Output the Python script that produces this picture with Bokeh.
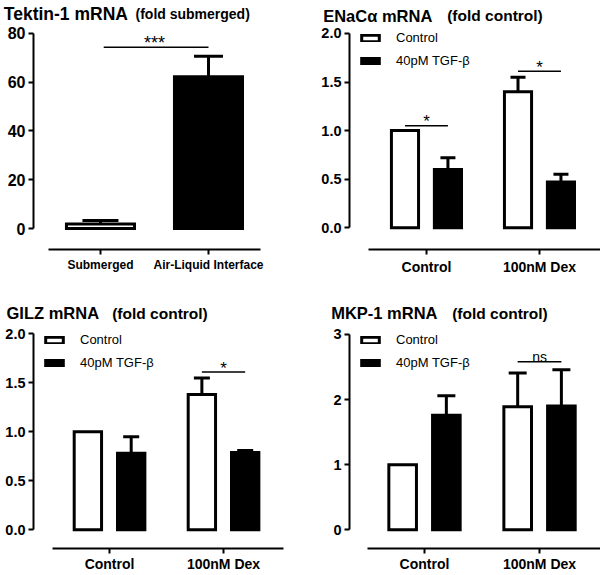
from bokeh.plotting import figure
from bokeh.models import (FixedTicker, Whisker, TeeHead, ColumnDataSource,
                          Range1d, Legend, LegendItem, PrintfTickFormatter)
from bokeh.layouts import column, row
from bokeh.embed import file_html
from bokeh.resources import INLINE
from bokeh.core.properties import value

FONT = "Liberation Sans"

# ---------------- data ----------------
tek_groups = ["Submerged", "Air-Liquid Interface"]
tek_mean = [1.8, 62.3]
tek_sem = [1.5, 8.4]
tek_ticks = [0, 20, 40, 60, 80]
tek_sig = ("***", 74.4)

treat_groups = ["Control", "100nM Dex"]
series_names = ["Control", "40pM TGF-\u03b2"]

enac_ctrl_mean = [1.00, 1.40]
enac_ctrl_sem = [0.00, 0.15]
enac_tgf_mean = [0.60, 0.47]
enac_tgf_sem = [0.12, 0.08]

gilz_ctrl_mean = [1.00, 1.38]
gilz_ctrl_sem = [0.00, 0.17]
gilz_tgf_mean = [0.78, 0.79]
gilz_tgf_sem = [0.17, 0.02]

mkp_ctrl_mean = [1.00, 1.89]
mkp_ctrl_sem = [0.00, 0.52]
mkp_tgf_mean = [1.76, 1.90]
mkp_tgf_sem = [0.30, 0.56]

fold_ticks = [0.0, 0.5, 1.0, 1.5, 2.0]
mkp_ticks = [0, 1, 2, 3]

# (label, group index, bracket height)
enac_sig = [("*", 0, 1.05), ("*", 1, 1.61)]
gilz_sig = [("*", 1, 1.61)]
mkp_sig = [("ns", 1, 2.58)]

titles = [("Tektin-1 mRNA", "(fold submerged)"),
          ("ENaC\u03b1 mRNA", "(fold control)"),
          ("GILZ mRNA", "(fold control)"),
          ("MKP-1 mRNA", "(fold control)")]


def title_strip(w, h, tx, sx, base, title, sub, tsize, ssize):
    t = figure(width=w, height=h, x_range=Range1d(0, w), y_range=Range1d(h, 0),
               output_backend="svg", toolbar_location=None, min_border=0,
               x_axis_location=None, y_axis_location=None)
    t.outline_line_color = None
    t.grid.visible = False
    t.text(x=[tx], y=[base], text=[title], text_font=value(FONT),
           text_font_style="bold", text_font_size=tsize,
           text_baseline="alphabetic", text_align="left", text_color="black")
    t.text(x=[sx], y=[base], text=[sub], text_font=value(FONT),
           text_font_style="bold", text_font_size=ssize,
           text_baseline="alphabetic", text_align="left", text_color="black")
    return t


def make_fig(w, h, fl, fr, ft, fb, xr, yr, ybounds, yticks, yfmt, ylab_size,
             xlabels, xbounds, xlab_size, xstand):
    p = figure(width=w, height=h, x_range=Range1d(*xr), y_range=Range1d(*yr),
               output_backend="svg", toolbar_location=None,
               min_border_left=fl, min_border_right=fr,
               min_border_top=ft, min_border_bottom=fb)
    p.outline_line_color = None
    p.grid.visible = False
    ya = p.yaxis[0]
    ya.ticker = FixedTicker(ticks=yticks)
    ya.formatter = PrintfTickFormatter(format=yfmt)
    ya.bounds = ybounds
    ya.axis_line_width = 2
    ya.major_tick_line_width = 2
    ya.major_tick_in = 0
    ya.major_tick_out = 5
    ya.minor_tick_line_color = None
    ya.major_label_standoff = 3
    ya.major_label_text_font = FONT
    ya.major_label_text_font_style = "bold"
    ya.major_label_text_font_size = ylab_size
    ya.major_label_text_color = "black"
    xa = p.xaxis[0]
    xa.ticker = FixedTicker(ticks=list(range(len(xlabels))))
    xa.major_label_overrides = {i: s for i, s in enumerate(xlabels)}
    xa.bounds = xbounds
    xa.axis_line_width = 2
    xa.major_tick_line_width = 2
    xa.major_tick_in = 0
    xa.major_tick_out = 5
    xa.minor_tick_line_color = None
    xa.major_label_standoff = xstand
    xa.major_label_text_font = FONT
    xa.major_label_text_font_style = "bold"
    xa.major_label_text_font_size = xlab_size
    xa.major_label_text_color = "black"
    return p


def add_err(p, xs, means, sems, cap):
    b, lo, up = [], [], []
    for x, m, s in zip(xs, means, sems):
        if s > 0:
            b.append(x)
            lo.append(m)
            up.append(m + s)
    src = ColumnDataSource(dict(base=b, lower=lo, upper=up))
    w = Whisker(source=src, base="base", lower="lower", upper="upper",
                dimension="height", line_width=3, line_color="black",
                lower_head=None,
                upper_head=TeeHead(size=cap, line_width=3, line_color="black"))
    p.add_layout(w)


def grouped_panel(p, ctrl_m, ctrl_s, tgf_m, tgf_s, sigs, sig_size, sig_offset,
                  cap, frame_h):
    off = 0.19
    bw = 0.24
    xc = [i - off for i in range(len(treat_groups))]
    xt = [i + off for i in range(len(treat_groups))]
    r1 = p.vbar(x=xc, top=ctrl_m, width=bw, bottom=0, fill_color="white",
                line_color="black", line_width=3, line_join="miter")
    r2 = p.vbar(x=xt, top=tgf_m, width=bw, bottom=0, fill_color="black",
                line_color="black", line_width=3, line_join="miter")
    add_err(p, xc, ctrl_m, ctrl_s, cap)
    add_err(p, xt, tgf_m, tgf_s, cap)
    for lab, gi, yv in sigs:
        p.segment(x0=[gi - off], y0=[yv], x1=[gi + off], y1=[yv],
                  line_color="black", line_width=1.5)
        p.text(x=[gi], y=[yv], text=[lab], text_align="center",
               text_baseline="alphabetic", y_offset=sig_offset,
               text_font=value(FONT), text_font_size=sig_size,
               text_color="black")
    # legend: (x, y) is its bottom-left corner, measured from the frame's bottom-left
    leg_h = 14 + 8 + 14
    leg = Legend(items=[LegendItem(label=series_names[0], renderers=[r1]),
                        LegendItem(label=series_names[1], renderers=[r2])],
                 location=(10, frame_h - 6 - leg_h), margin=0, padding=0,
                 border_line_color=None, background_fill_alpha=0,
                 glyph_width=22, glyph_height=8, label_height=13,
                 label_standoff=15, spacing=8,
                 label_text_font=FONT, label_text_font_size="13px",
                 label_text_color="black")
    p.add_layout(leg)


TOP_T, TOP_P = 24, 266
BOT_T, BOT_P = 33, 252

# ---------------- panel 1 : Tektin-1 ----------------
t1 = title_strip(300, TOP_T, 3.3, 135, 13.5, titles[0][0], titles[0][1], "17.5px", "14px")
p1 = make_fig(300, TOP_P, 33, 30, 4, 41, (-0.620, 1.574), (-8.615, 82.05), (0, 80),
              tek_ticks, "%d", "16px", tek_groups, (-0.481, 1.481), "12px", 3)
xs = list(range(len(tek_groups)))
p1.vbar(x=[xs[0]], top=[tek_mean[0]], width=0.63, bottom=0, fill_color="white",
        line_color="black", line_width=3, line_join="miter")
p1.vbar(x=[xs[1]], top=[tek_mean[1]], width=0.63, bottom=0, fill_color="black",
        line_color="black", line_width=3, line_join="miter")
add_err(p1, [xs[0]], [tek_mean[0]], [tek_sem[0]], 36)
add_err(p1, [xs[1]], [tek_mean[1]], [tek_sem[1]], 29)
p1.segment(x0=[xs[0] + 0.03], y0=[tek_sig[1]], x1=[xs[1]], y1=[tek_sig[1]],
           line_color="black", line_width=1.5)
p1.text(x=[(xs[0] + xs[1]) / 2], y=[tek_sig[1]], text=[tek_sig[0]],
        text_align="center", text_baseline="alphabetic", y_offset=-4,
        text_font=value(FONT), text_font_size="18px", text_color="black")

# ---------------- panel 2 : ENaC ----------------
t2 = title_strip(300, TOP_T, 22.7, 146.7, 15, titles[1][0], titles[1][1], "16.5px", "15.5px")
p2 = make_fig(300, TOP_P, 49, 0, 4, 39, (-0.681, 1.540), (-0.2245, 2.051), (0, 2.0),
              fold_ticks, "%.1f", "14.5px", treat_groups, (-0.513, 1.6), "14px", 4)
grouped_panel(p2, enac_ctrl_mean, enac_ctrl_sem, enac_tgf_mean, enac_tgf_sem,
              enac_sig, "17px", -4, 15, TOP_P - 4 - 39)

# ---------------- panel 3 : GILZ ----------------
t3 = title_strip(300, BOT_T, 6, 111.7, 22.8, titles[2][0], titles[2][1], "16.5px", "15.5px")
p3 = make_fig(300, BOT_P, 33, 8, 5, 27, (-0.667, 1.605), (-0.1908, 2.054), (0, 2.0),
              fold_ticks, "%.1f", "14.5px", treat_groups, (-0.5, 1.526), "14px", 2)
grouped_panel(p3, gilz_ctrl_mean, gilz_ctrl_sem, gilz_tgf_mean, gilz_tgf_sem,
              gilz_sig, "17px", -4, 16, BOT_P - 5 - 27)

# ---------------- panel 4 : MKP-1 ----------------
t4 = title_strip(300, BOT_T, 30.7, 151.7, 22.8, titles[3][0], titles[3][1], "16.5px", "15.5px")
p4 = make_fig(300, BOT_P, 49, 0, 5, 27, (-0.652, 1.530), (-0.287, 3.092), (0, 3),
              mkp_ticks, "%d", "14.5px", treat_groups, (-0.496, 1.6), "14px", 2)
grouped_panel(p4, mkp_ctrl_mean, mkp_ctrl_sem, mkp_tgf_mean, mkp_tgf_sem,
              mkp_sig, "14px", -5, 18, BOT_P - 5 - 27)

layout = column(row(t1, t2), row(p1, p2), row(t3, t4), row(p3, p4))
open("out.html", "w").write(file_html(layout, INLINE))
